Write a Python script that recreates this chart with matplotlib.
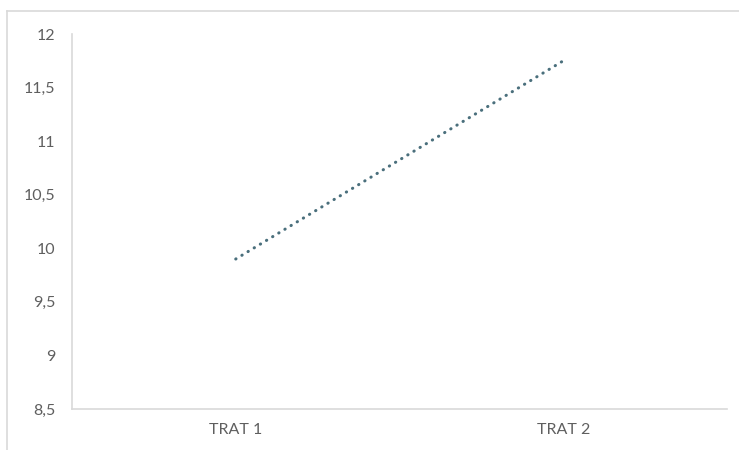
import matplotlib.pyplot as plt
from matplotlib.lines import Line2D

# Treatment means
treatments = ['TRAT 1', 'TRAT 2']
values = [9.9, 11.75]
y_ticks = [8.5, 9, 9.5, 10, 10.5, 11, 11.5, 12]
y_labels = ['8,5', '9', '9,5', '10', '10,5', '11', '11,5', '12']

plt.rcParams['font.family'] = ['Lato', 'DejaVu Sans']

fig = plt.figure(figsize=(7.39, 4.5), dpi=100)
ax = fig.add_axes([0.0974, 0.0911, 0.8864, 0.8333])

# Round dots between the two treatments
x = list(range(len(treatments)))
ax.plot(x, values, linestyle=(0, (0.1, 2.25)), linewidth=2.2, color='#4a6f7c',
        dash_capstyle='round')

ax.set_xlim(-0.5, 1.5)
ax.set_ylim(8.5, 12)
ax.set_xticks(x)
ax.set_xticklabels(treatments)
ax.set_yticks(y_ticks)
ax.set_yticklabels(y_labels)
ax.tick_params(length=0, labelsize=11.5, labelcolor='#5f5f5f', pad=12)
ax.tick_params(axis='x', pad=10)

for side in ['top', 'right']:
    ax.spines[side].set_visible(False)
for side in ['left', 'bottom']:
    ax.spines[side].set_color('#d9d9d9')
    ax.spines[side].set_linewidth(1.2)

# Light frame around the chart area
fig.add_artist(Line2D([7 / 739, 1], [1 - 11 / 450, 1 - 11 / 450], color='#d9d9d9', lw=1.2))
fig.add_artist(Line2D([7 / 739, 7 / 739], [0, 1 - 11 / 450], color='#d9d9d9', lw=1.2))

fig.savefig('out.png', dpi=100)
